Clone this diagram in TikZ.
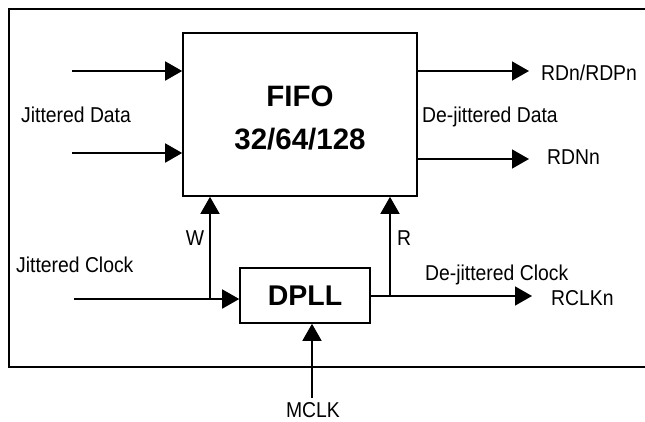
\documentclass[tikz,border=0pt]{standalone}
\usepackage{fontspec}
\setmainfont{Liberation Sans}
\newfontfamily\lblfont[FakeStretch=0.9]{Liberation Sans}
\usetikzlibrary{arrows.meta}
\begin{document}
\begin{tikzpicture}[x=1pt,y=-1pt,
  wire/.style={line width=1.6pt},
  arr/.style={wire,-{Triangle[length=17pt,width=19pt]}},
  blockbox/.style={draw,line width=1.6pt,inner sep=0pt},
  lbl/.style={font=\lblfont\fontsize{21.5}{25}\selectfont,inner sep=0pt},
  big/.style={font=\bfseries\fontsize{29.5}{43}\selectfont,align=center,inner sep=0pt}]
\useasboundingbox (0,0) rectangle (645,421);
% outer frame (right edge off the picture)
\draw[wire] (652,9) -- (9,9) -- (9,367) -- (652,367);
% blocks
\node[blockbox,minimum width=234pt,minimum height=163pt] (fifo) at (300,114.5) {};
\node[big] (fifotxt) at (300,118) {FIFO\\32/64/128};
\node[blockbox,font=\bfseries\fontsize{28.5}{32}\selectfont,minimum width=130pt,minimum height=55pt] (dpll) at (305,295.5) {DPLL};
% coordinates for free ends
\coordinate (i1) at (72,71);
\coordinate (i2) at (72,153);
\coordinate (o1) at (529,71);
\coordinate (o2) at (529,159);
\coordinate (ck) at (74,299);
\coordinate (jw) at (210,299);
\coordinate (oc) at (532,296);
\coordinate (jr) at (390,296);
\coordinate (mc) at (312,398);
% connectors
\draw[arr] (i1) -- (i1 -| fifo.west);
\draw[arr] (i2) -- (i2 -| fifo.west);
\draw[arr] (o1 -| fifo.east) -- (o1);
\draw[arr] (o2 -| fifo.east) -- (o2);
\draw[arr] (ck) -- (ck -| dpll.west);
\draw[arr] (jw) -- (jw |- fifo.south);
\draw[arr] (oc -| dpll.east) -- (oc);
\draw[arr] (jr) -- (jr |- fifo.south);
\draw[arr] (mc) -- (mc |- dpll.south);
% labels
\node[lbl,anchor=base west] (tjd) at (21,122) {Jittered Data};
\node[lbl,anchor=base west] (tr1) at (541,80) {RDn/RDPn};
\node[lbl,anchor=base west] (tdd) at (422,122) {De-jittered Data};
\node[lbl,anchor=base west] (tr2) at (547,164) {RDNn};
\node[lbl,anchor=base west] (tjc) at (16,272) {Jittered Clock};
\node[lbl,anchor=base] (tw) at (195,245) {W};
\node[lbl,anchor=base west] (trr) at (397,245) {R};
\node[lbl,anchor=base west] (tdc) at (425,280) {De-jittered Clock};
\node[lbl,anchor=base west] (trc) at (551,305) {RCLKn};
\node[lbl,anchor=base] (tmc) at (313,417) {MCLK};
\end{tikzpicture}
\end{document}
